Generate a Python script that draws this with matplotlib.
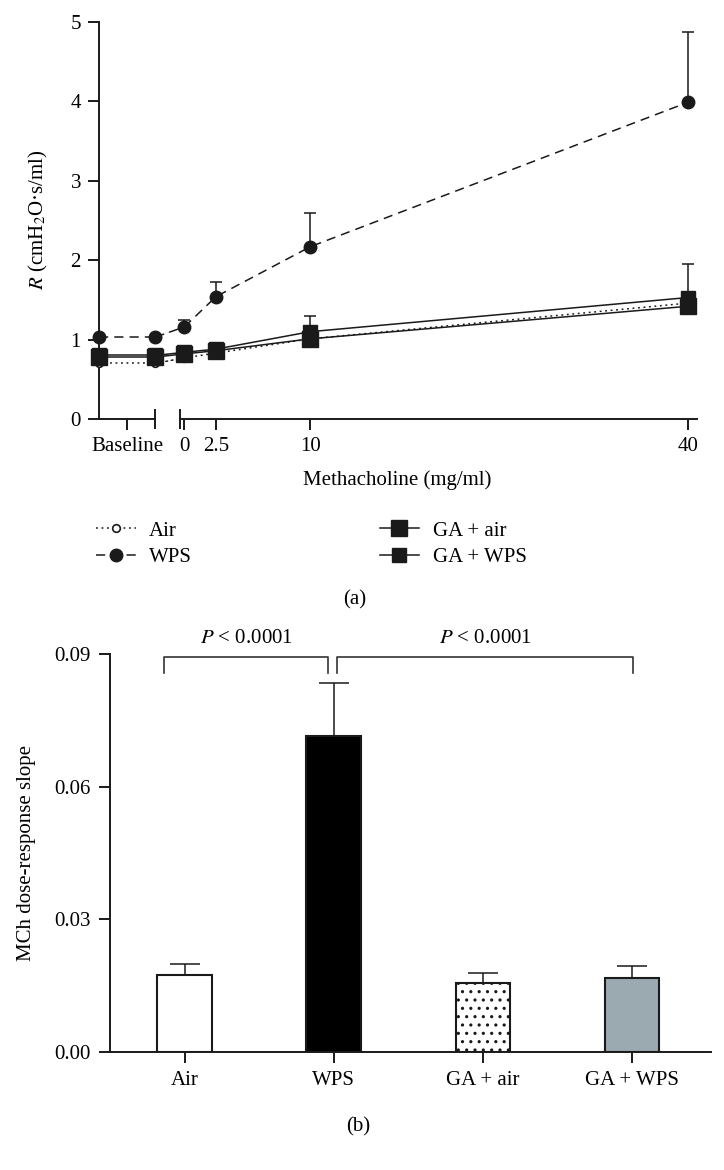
import matplotlib
matplotlib.use('Agg')
import matplotlib.pyplot as plt
from matplotlib.patches import ConnectionPatch
from matplotlib.ticker import FormatStrFormatter
import numpy as np

plt.rcParams['font.family'] = ['Liberation Serif', 'DejaVu Serif']
plt.rcParams['mathtext.fontset'] = 'stix'
plt.rcParams['font.size'] = 15
plt.rcParams['hatch.linewidth'] = 1.1

# (a) resistance vs methacholine dose
doses = [0, 2.5, 10, 40]
dose_labels = ['0', '2.5', '10', '40']

air_base = [0.70, 0.70]
air_dose = [0.77, 0.83, 1.01, 1.46]
air_err = [0, 0, 0, 0]

wps_base = [1.03, 1.03]
wps_dose = [1.16, 1.54, 2.17, 3.99]
wps_err = [0.09, 0.19, 0.42, 0.89]

ga_air_base = [0.78, 0.78]
ga_air_dose = [0.82, 0.86, 1.01, 1.42]
ga_air_err = [0, 0, 0, 0]

ga_wps_base = [0.80, 0.80]
ga_wps_dose = [0.84, 0.88, 1.10, 1.53]
ga_wps_err = [0, 0, 0.20, 0.42]

# (b) dose-response slopes
groups = ['Air', 'WPS', 'GA + air', 'GA + WPS']
slopes = [0.0174, 0.0715, 0.0155, 0.0167]
slope_err = [0.0026, 0.0119, 0.0024, 0.0027]
p_labels = ['$P$ < 0.0001', '$P$ < 0.0001']

ink = '#1a1a1a'
lw = 1.1

# line style for each series of panel (a)
series = [
    ('Air', air_base, air_dose, air_err,
     dict(ls=(0, (1.2, 2.4)), marker='o', ms=5.5, mfc='white', mew=1.2)),
    ('WPS', wps_base, wps_dose, wps_err,
     dict(ls=(0, (6, 4)), marker='o', ms=9, mfc=ink, mew=1)),
    ('GA + air', ga_air_base, ga_air_dose, ga_air_err,
     dict(ls='-', marker='s', ms=11.5, mfc=ink, mew=1)),
    ('GA + WPS', ga_wps_base, ga_wps_dose, ga_wps_err,
     dict(ls='-', marker='s', ms=9.5, mfc=ink, mew=1)),
]

fig = plt.figure(figsize=(7.24, 11.70), dpi=100)
W, H = 724, 1170

# broken x axis: baseline part and dose part
ax_b = fig.add_axes([99 / W, 1 - 419 / H, 56 / W, 397 / H])
ax_d = fig.add_axes([180 / W, 1 - 419 / H, 517 / W, 397 / H], sharey=ax_b)
for ax in (ax_b, ax_d):
    ax.patch.set_visible(False)

handles = []
for label, base, dose, err, st in series:
    h, = ax_b.plot([0, 1], base, color=ink, mec=ink, lw=lw, clip_on=False,
                   zorder=3, label=label, **st)
    ax_d.plot(doses, dose, color=ink, mec=ink, lw=lw, clip_on=False,
              zorder=3, **st)
    handles.append(h)
    # line across the axis break
    con = ConnectionPatch(xyA=(1, base[1]), coordsA=ax_b.transData,
                          xyB=(doses[0], dose[0]), coordsB=ax_d.transData,
                          color=ink, lw=lw, linestyle=st['ls'], zorder=-1)
    fig.add_artist(con)
    # upper error bars only
    err = np.array(err)
    m = err > 0
    if m.any():
        ax_d.errorbar(np.array(doses)[m], np.array(dose)[m],
                      yerr=[np.zeros(m.sum()), err[m]], fmt='none',
                      ecolor=ink, elinewidth=lw, capsize=4.5, capthick=lw,
                      zorder=2, clip_on=False)

ax_b.set_ylim(0, 5)
ax_b.set_yticks(range(6))
ax_b.set_xlim(0, 1)
ax_b.set_xticks([0.5], ['Baseline'])
ax_b.set_xticks([1], minor=True)
ax_b.spines[['top', 'right']].set_visible(False)

ax_d.set_xlim(-0.35, 40.7)
ax_d.set_xticks(doses, dose_labels)
ax_d.set_xticks([ax_d.get_xlim()[0]], minor=True)
ax_d.spines[['top', 'right', 'left']].set_visible(False)
ax_d.tick_params(axis='y', left=False, labelleft=False)

for ax in (ax_b, ax_d):
    for s in ax.spines.values():
        s.set_color(ink)
        s.set_linewidth(1.4)
    ax.tick_params(which='major', direction='out', length=8, width=1.4,
                   color=ink, labelsize=15, pad=5)
    ax.tick_params(which='minor', direction='inout', length=15, width=1.4,
                   color=ink)

fig.text(38 / W, 1 - 220 / H, r'$R$ (cmH$_2$O·s/ml)', rotation=90,
         ha='center', va='center', fontsize=15)
fig.text(397 / W, 1 - 480 / H, 'Methacholine (mg/ml)', ha='center',
         va='center', fontsize=15)

fig.legend(handles, [s[0] for s in series], ncol=2, loc='upper left',
           bbox_to_anchor=(96 / W, 1 - 521 / H), frameon=False,
           handlelength=1.9, handletextpad=0.65, columnspacing=9.0,
           labelspacing=0.33, borderpad=0, borderaxespad=0, fontsize=15)

fig.text(355 / W, 1 - 600 / H, '(a)', ha='center', va='center', fontsize=15)

# (b) bar chart
ax2 = fig.add_axes([110 / W, 118 / H, 601 / W, 398 / H])
x = np.arange(len(groups))
bar_colors = ['white', 'black', 'white', '#9ba9b0']
hatches = ['', '', '..', '']
bars = ax2.bar(x, slopes, width=0.365, color=bar_colors, edgecolor=ink,
               linewidth=1.5, zorder=2)
for b, hh in zip(bars, hatches):
    b.set_hatch(hh)
ax2.errorbar(x, slopes, yerr=[np.zeros(len(x)), slope_err], fmt='none',
             ecolor=ink, elinewidth=lw, capsize=10.5, capthick=lw, zorder=1)

ax2.set_xlim(-0.5, 3.53)
ax2.set_ylim(0, 0.09)
ax2.set_yticks([0, 0.03, 0.06, 0.09])
ax2.yaxis.set_major_formatter(FormatStrFormatter('%.2f'))
ax2.set_xticks(x, groups)
ax2.spines[['top', 'right']].set_visible(False)
for s in ax2.spines.values():
    s.set_color(ink)
    s.set_linewidth(1.4)
ax2.tick_params(direction='out', length=8, width=1.4, color=ink,
                labelsize=15, pad=6)

# significance brackets
top, leg = 0.0893, 0.0857
pairs = [(x[0] - 0.14, x[1] - 0.035), (x[1] + 0.025, x[3] + 0.01)]
for (x0, x1), txt in zip(pairs, p_labels):
    ax2.plot([x0, x0, x1, x1], [leg, top, top, leg], color='#333333',
             lw=1.2, clip_on=False)
    ax2.text((x0 + x1) / 2, 0.0936, txt, ha='center', va='center',
             fontsize=15)

fig.text(27 / W, 1 - 853 / H, 'MCh dose-response slope', rotation=90,
         ha='center', va='center', fontsize=15)
fig.text(358 / W, 1 - 1127 / H, '(b)', ha='center', va='center', fontsize=15)

fig.savefig('out.png', dpi=100)
